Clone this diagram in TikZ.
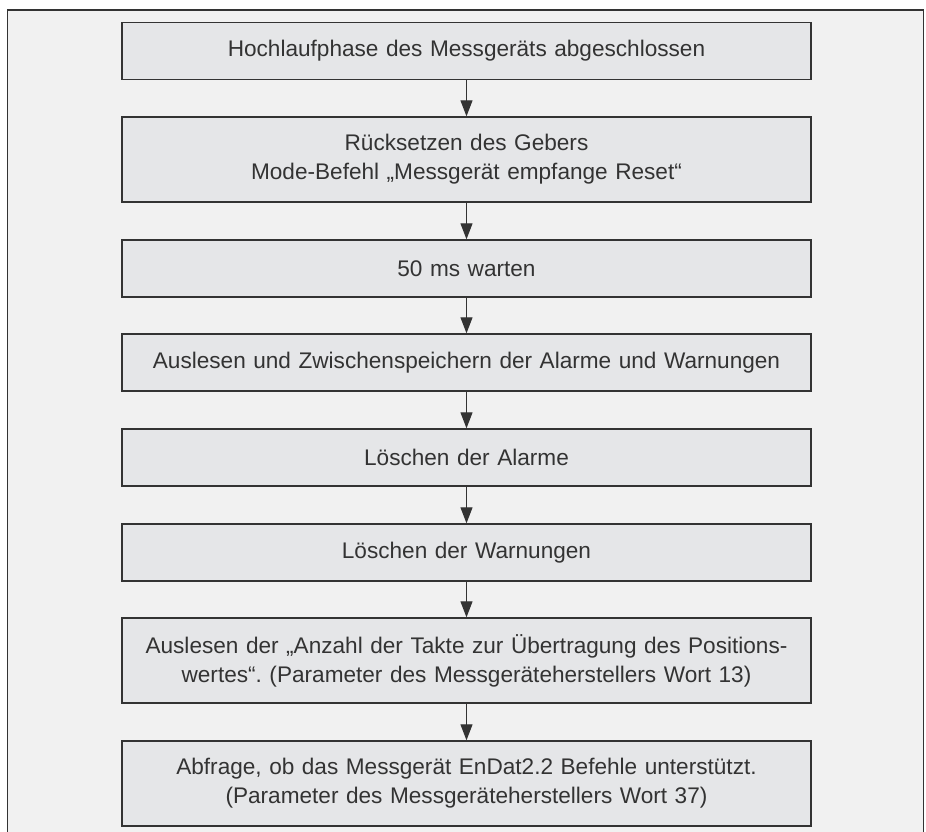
\documentclass[tikz,border=0pt]{standalone}
\usepackage{fontspec}
\setmainfont{Liberation Sans}
\usetikzlibrary{arrows.meta}
\definecolor{framebg}{HTML}{F1F1F1}
\definecolor{boxbg}{HTML}{E5E6E8}
\definecolor{edge}{HTML}{333333}
\frenchspacing
\begin{document}
\begin{tikzpicture}[
	x=1pt, y=-1pt,
	stepbox/.style={rectangle, draw=edge, line width=1.4pt, fill=boxbg,
		minimum width=689pt, minimum height=57pt, inner sep=0pt,
		text width=680pt, align=center, text=edge,
		font=\fontsize{22.6}{29}\selectfont},
	tallbox/.style={stepbox, minimum height=85pt},
	flow/.style={-{Triangle[length=16pt, width=12pt]}, line width=1.2pt, draw=edge}
	]
	% Background and frame
	\useasboundingbox (0,0) rectangle (926,832);
	\fill[white] (0,0) rectangle (926,832);
	\filldraw[fill=framebg, draw=edge, line width=1.8pt] (7.5,840) -- (7.5,10) -- (923.5,10) -- (923.5,840);
	
	% Steps
	\node[stepbox] (S1) at (466.5,51) {Hochlaufphase des Messgeräts abgeschlossen};
	\node[tallbox] (S2) at (466.5,159.5) {Rücksetzen des Gebers\\Mode-Befehl „Messgerät empfange Reset“};
	\node[stepbox] (S3) at (466.5,268.5) {50 ms warten};
	\node[stepbox] (S4) at (466.5,362.5) {Auslesen und Zwischenspeichern der Alarme und Warnungen};
	\node[stepbox] (S5) at (466.5,457.5) {Löschen der Alarme};
	\node[stepbox] (S6) at (466.5,552.5) {Löschen der Warnungen};
	\node[tallbox] (S7) at (466.5,660.5) {Auslesen der „Anzahl der Takte zur Übertragung des Positions-\\wertes“. (Parameter des Messgeräteherstellers Wort 13)};
	\node[tallbox] (S8) at (466.5,783.5) {Abfrage, ob das Messgerät EnDat2.2 Befehle unterstützt.\\(Parameter des Messgeräteherstellers Wort 37)};
	
	% Connections
	\foreach \i/\j in {1/2,2/3,3/4,4/5,5/6,6/7,7/8} {
		\draw[flow] (S\i) -- (S\j);
	}
\end{tikzpicture}
\end{document}
